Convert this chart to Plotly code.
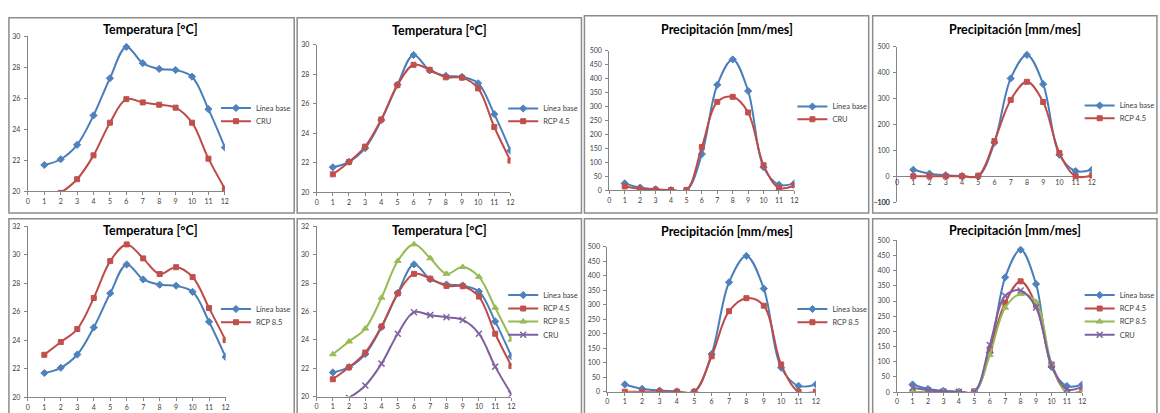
import plotly.graph_objects as go

months = list(range(1, 13))
x_ticks = list(range(0, 13))

temp_linea_base = [21.7, 22.07, 23.0, 24.9, 27.3, 29.32, 28.27, 27.9, 27.83, 27.4, 25.3, 22.83]
temp_cru = [19.3, 19.9, 20.78, 22.32, 24.43, 25.95, 25.74, 25.59, 25.4, 24.43, 22.11, 20.17]
temp_rcp45 = [21.22, 22.06, 23.1, 24.94, 27.27, 28.65, 28.31, 27.8, 27.78, 27.05, 24.43, 22.15]
temp_rcp85 = [22.98, 23.88, 24.79, 26.97, 29.56, 30.73, 29.75, 28.65, 29.13, 28.44, 26.26, 24.01]

prec_linea_base = [25, 10, 4, 1, 0, 130, 378, 469, 356, 83, 20, 25]
prec_cru = [14, 6, 2, 1, 1, 155, 317, 335, 279, 90, 9, 18]
prec_rcp45 = [0, 0, 0, 0, 2, 136, 295, 365, 287, 90, 0, 3]
prec_rcp85 = [0, 0, 0, 0, 0, 122, 278, 323, 297, 94, 0, 0]

p4_min_tick_label = "-100"

title_temp = "Temperatura [°C]"
title_prec = "Precipitación [mm/mes]"

W, H = 1160, 413
FONT = "Lato"


def px(x):
    return x / W


def py(y):
    return 1 - y / H


red = dict(line=dict(color="#BE4B48", width=2),
           marker=dict(symbol="square", size=5, color="#C0504D",
                       line=dict(color="#C0504D", width=1)))
styles = {
    "Línea base": dict(line=dict(color="#4A7EBB", width=2),
                       marker=dict(symbol="diamond", size=5.5, color="#4F81BD",
                                   line=dict(color="#4F81BD", width=1))),
    "CRU": red,
    "RCP 4.5": red,
    "RCP 8.5": red,
}
green = dict(line=dict(color="#98B954", width=2),
             marker=dict(symbol="triangle-up", size=6, color="#9BBB59",
                         line=dict(color="#9BBB59", width=1)))
purple = dict(line=dict(color="#7D60A0", width=2),
              marker=dict(symbol="x-thin-open", size=6, color="#8064A2",
                          line=dict(color="#8064A2", width=1.5)))

# panels: title, series list, layout geometry (pixels)
panels = [
    dict(title=title_temp, series=[("Línea base", temp_linea_base, None), ("CRU", temp_cru, None)],
         x0=26.1, x12=225, ytop=32, ybot=190, yr=[20, 30], dt=2, tcx=150, tcy=25,
         lgx=216, lgy=[105, 118.5], box=[7, 13, 295, 212]),
    dict(title=title_temp, series=[("Línea base", temp_linea_base, None), ("RCP 4.5", temp_rcp45, None)],
         x0=317.7, x12=513.3, ytop=40.7, ybot=191, yr=[20, 30], dt=2, tcx=441.7, tcy=26,
         lgx=506, lgy=[105.5, 118.5], box=[298, 13, 585, 212]),
    dict(title=title_prec, series=[("Línea base", prec_linea_base, None), ("CRU", prec_cru, None)],
         x0=613.1, x12=800, ytop=46.7, ybot=189, yr=[0, 500], dt=50, tcx=731.7, tcy=24.7,
         lgx=798, lgy=[103.5, 116.5], box=[588, 11, 875, 212]),
    dict(title=title_prec, series=[("Línea base", prec_linea_base, None), ("RCP 4.5", prec_rcp45, None)],
         x0=903.6, x12=1100.3, ytop=42.7, ybot=201, yr=[-100, 500], dt=100, tcx=1023, tcy=24.7,
         lgx=1088, lgy=[102.5, 115.5], box=[879, 11, 1166, 212], cross_zero=True),
    dict(title=title_temp, series=[("Línea base", temp_linea_base, None), ("RCP 8.5", temp_rcp85, None)],
         x0=26.1, x12=225.7, ytop=225.7, ybot=400, yr=[20, 32], dt=2, tcx=150, tcy=230.3,
         lgx=216, lgy=[310, 323.5], box=[7, 218, 295, 420]),
    dict(title=title_temp, series=[("Línea base", temp_linea_base, None), ("RCP 4.5", temp_rcp45, None),
                                   ("RCP 8.5", temp_rcp85, green), ("CRU", temp_cru, purple)],
         x0=317.6, x12=514.3, ytop=225.7, ybot=399.3, yr=[20, 32], dt=2, tcx=441.7, tcy=230.3,
         lgx=506, lgy=[295.8, 309.5, 322.8, 336.2], box=[298, 218, 585, 420]),
    dict(title=title_prec, series=[("Línea base", prec_linea_base, None), ("RCP 8.5", prec_rcp85, None)],
         x0=611.2, x12=821.7, ytop=246.7, ybot=394.3, yr=[0, 500], dt=50, tcx=731.7, tcy=230.7,
         lgx=798, lgy=[310, 323.5], box=[588, 218, 875, 420]),
    dict(title=title_prec, series=[("Línea base", prec_linea_base, None), ("RCP 4.5", prec_rcp45, None),
                                   ("RCP 8.5", prec_rcp85, green), ("CRU", prec_cru, purple)],
         x0=903.7, x12=1090.7, ytop=240, ybot=394.7, yr=[0, 500], dt=50, tcx=1022.7, tcy=229.7,
         lgx=1088, lgy=[295.8, 309.5, 322.8, 336.2], box=[879, 218, 1166, 420]),
]

fig = go.Figure()
layout = dict(
    width=W, height=H, margin=dict(l=0, r=0, t=0, b=0),
    paper_bgcolor="white", plot_bgcolor="white",
    font=dict(family=FONT, color="#404040"),
    showlegend=True,
)
annotations = []
shapes = []

axis_style = dict(showline=True, linecolor="#868686", linewidth=1, ticks="outside",
                  ticklen=3, tickcolor="#868686", tickwidth=1, showgrid=False,
                  zeroline=False, tickfont=dict(family=FONT, size=7, color="#404040"),
                  fixedrange=True)

leg_count = 0
for i, p in enumerate(panels, start=1):
    xn = "xaxis" if i == 1 else f"xaxis{i}"
    yn = "yaxis" if i == 1 else f"yaxis{i}"
    xr = "x" if i == 1 else f"x{i}"
    yr = "y" if i == 1 else f"y{i}"
    xa = dict(axis_style, domain=[px(p["x0"]), px(p["x12"])], range=[0, 12],
              tickmode="array", tickvals=x_ticks, anchor=yr)
    ya = dict(axis_style, domain=[py(p["ybot"]), py(p["ytop"])], range=p["yr"],
              tickmode="linear", dtick=p["dt"], tick0=0, ticklabelstandoff=2, anchor=xr)
    if p.get("cross_zero"):
        # horizontal axis line drawn at y = 0 (zeroline), labels placed just below it
        xa.update(showline=False, ticks="", ticklabelposition="inside", ticklabelstandoff=13,
                  ticklabeloverflow="allow")
        ya.update(zeroline=True, zerolinecolor="#868686", zerolinewidth=1)
        annotations.append(dict(text=p4_min_tick_label, x=px(p["x0"] - 5), y=py(p["ybot"]),
                                xref="paper", yref="paper", showarrow=False,
                                xanchor="right", yanchor="middle",
                                font=dict(family=FONT, size=7, color="#404040")))
    layout[xn] = xa
    layout[yn] = ya

    for k, (name, vals, st) in enumerate(p["series"]):
        leg_count += 1
        lname = "legend" if leg_count == 1 else f"legend{leg_count}"
        s = st if st is not None else styles[name]
        fig.add_trace(go.Scatter(
            x=months, y=vals, name=name, mode="lines+markers",
            line=dict(s["line"], shape="spline", smoothing=1),
            marker=s["marker"], xaxis=xr, yaxis=yr, legend=lname,
        ))
        layout[lname] = dict(x=px(p["lgx"]), y=py(p["lgy"][k]), xanchor="left", yanchor="middle",
                             bgcolor="rgba(0,0,0,0)", borderwidth=0,
                             font=dict(family=FONT, size=7.5, color="#404040"))

    annotations.append(dict(text=f"<b>{p['title']}</b>", x=px(p["tcx"]), y=py(p["tcy"]),
                            xref="paper", yref="paper", showarrow=False,
                            xanchor="center", yanchor="middle",
                            font=dict(family=FONT, size=12.5, color="#000000")))
    bx0, by0, bx1, by1 = p["box"]
    shapes.append(dict(type="rect", xref="paper", yref="paper",
                       x0=px(bx0), x1=px(bx1), y0=py(by1), y1=py(by0),
                       line=dict(color="#8c8c8c", width=1.5), fillcolor="rgba(0,0,0,0)",
                       layer="below"))

layout["annotations"] = annotations
layout["shapes"] = shapes
fig.update_layout(**layout)

fig.write_html("out.html")
